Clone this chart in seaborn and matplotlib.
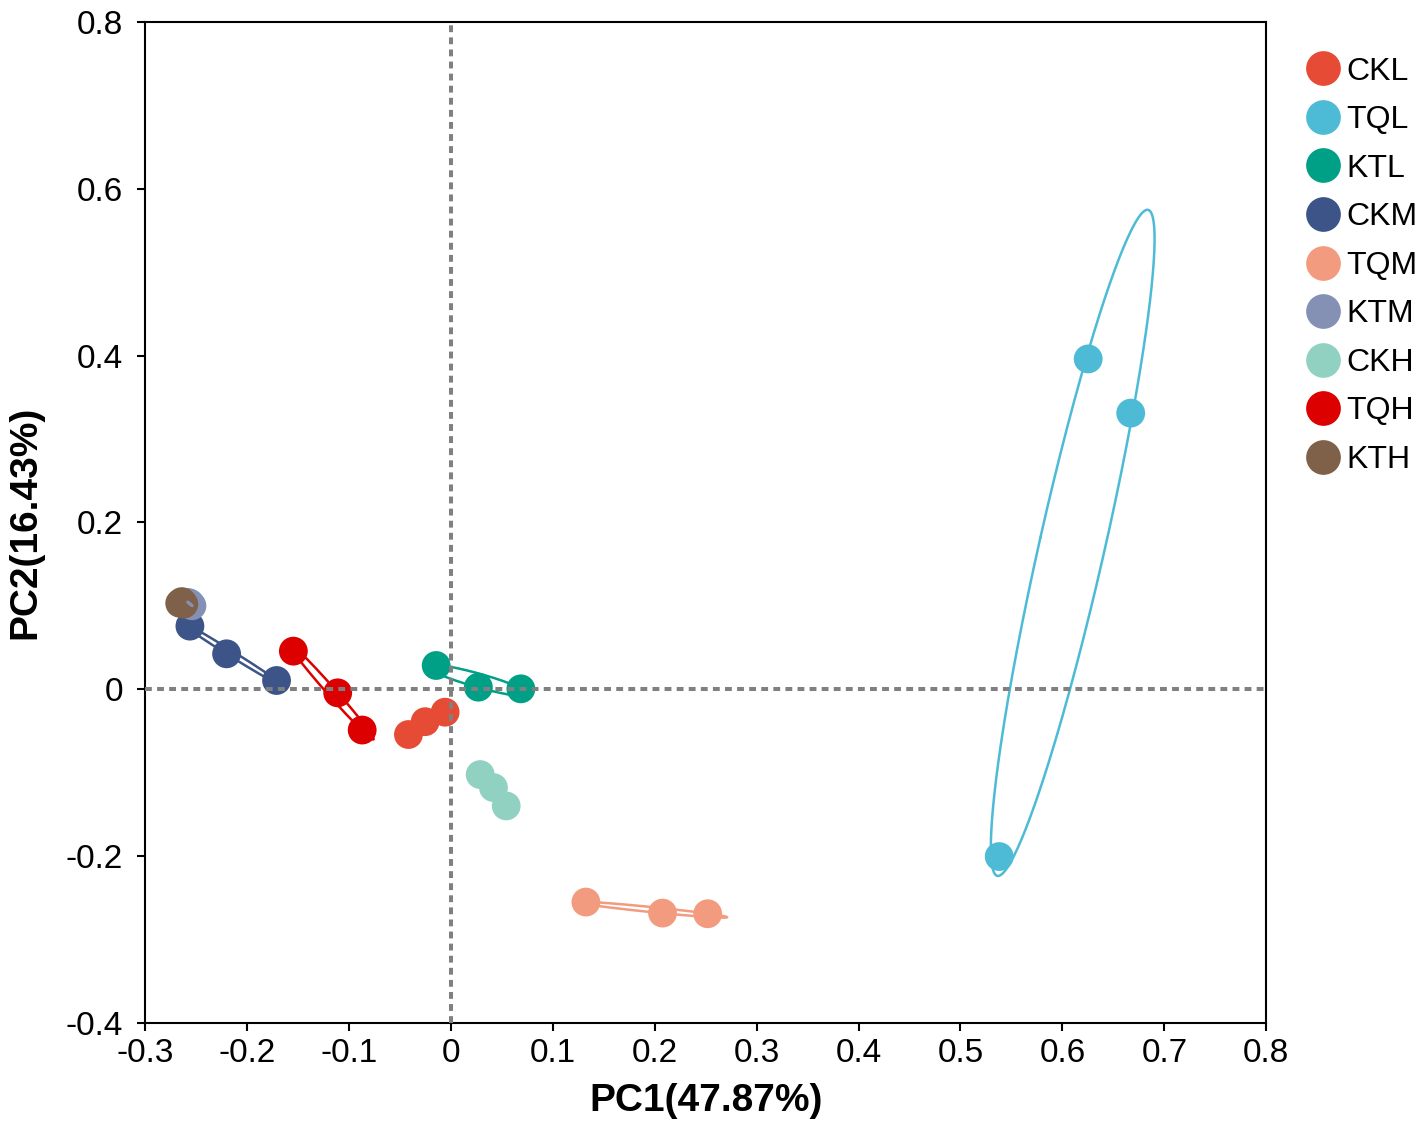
import numpy as np
import pandas as pd
import matplotlib
matplotlib.use("Agg")
import matplotlib.pyplot as plt
import seaborn as sns
from matplotlib.lines import Line2D

# ---- data ----
group_order = ["CKL", "TQL", "KTL", "CKM", "TQM", "KTM", "CKH", "TQH", "KTH"]
group_colors = ["#E64B35", "#4DBBD5", "#00A087", "#3C5488", "#F39B7F",
                "#8491B4", "#91D1C2", "#DC0000", "#7E6148"]

CKL_pc1 = [-0.0416, -0.0252, -0.0056]
CKL_pc2 = [-0.0544, -0.0390, -0.0276]
TQL_pc1 = [0.6253, 0.6670, 0.5380]
TQL_pc2 = [0.3960, 0.3310, -0.2007]
KTL_pc1 = [-0.0144, 0.0270, 0.0687]
KTL_pc2 = [0.0284, 0.0024, 0.0004]
CKM_pc1 = [-0.2560, -0.2200, -0.1710]
CKM_pc2 = [0.0756, 0.0424, 0.0104]
TQM_pc1 = [0.1325, 0.2077, 0.2520]
TQM_pc2 = [-0.2553, -0.2685, -0.2693]
KTM_pc1 = [-0.2560, -0.2540, -0.2580]
KTM_pc2 = [0.1030, 0.1000, 0.1040]
CKH_pc1 = [0.0288, 0.0418, 0.0543]
CKH_pc2 = [-0.1024, -0.1180, -0.1400]
TQH_pc1 = [-0.1545, -0.1110, -0.0870]
TQH_pc2 = [0.0456, -0.0044, -0.0490]
KTH_pc1 = [-0.2660, -0.2620, -0.2640]
KTH_pc2 = [0.1030, 0.1020, 0.1050]

x_ticks = [-0.3, -0.2, -0.1, 0, 0.1, 0.2, 0.3, 0.4, 0.5, 0.6, 0.7, 0.8]
x_ticklabels = ["-0.3", "-0.2", "-0.1", "0", "0.1", "0.2", "0.3", "0.4", "0.5", "0.6", "0.7", "0.8"]
y_ticks = [-0.4, -0.2, 0, 0.2, 0.4, 0.6, 0.8]
y_ticklabels = ["-0.4", "-0.2", "0", "0.2", "0.4", "0.6", "0.8"]
x_label = "PC1(47.87%)"
y_label = "PC2(16.43%)"

pc1_by_group = {"CKL": CKL_pc1, "TQL": TQL_pc1, "KTL": KTL_pc1, "CKM": CKM_pc1,
                "TQM": TQM_pc1, "KTM": KTM_pc1, "CKH": CKH_pc1, "TQH": TQH_pc1, "KTH": KTH_pc1}
pc2_by_group = {"CKL": CKL_pc2, "TQL": TQL_pc2, "KTL": KTL_pc2, "CKM": CKM_pc2,
                "TQM": TQM_pc2, "KTM": KTM_pc2, "CKH": CKH_pc2, "TQH": TQH_pc2, "KTH": KTH_pc2}

rows = []
for g in group_order:
    for a, b in zip(pc1_by_group[g], pc2_by_group[g]):
        rows.append({"group": g, "PC1": a, "PC2": b})
df = pd.DataFrame(rows)
palette = dict(zip(group_order, group_colors))

# ---- plot ----
sns.set_theme(style="white")
plt.rcParams["font.family"] = ["Liberation Sans", "DejaVu Sans"]
plt.rcParams["text.color"] = "black"
plt.rcParams["axes.labelcolor"] = "black"

fig = plt.figure(figsize=(14.18, 11.28), dpi=100)
ax = fig.add_axes([0.1023, 0.0933, 0.7907, 0.8872])

sns.scatterplot(data=df, x="PC1", y="PC2", hue="group", hue_order=group_order,
                palette=palette, s=430, linewidth=0, alpha=1, ax=ax, legend=False, zorder=3)

# confidence-style ellipses
scale = 1.22
t = np.linspace(0, 2 * np.pi, 300)
circle = np.vstack([np.cos(t), np.sin(t)])
for g in group_order:
    pts = np.vstack([pc1_by_group[g], pc2_by_group[g]])
    mu = pts.mean(axis=1, keepdims=True)
    cov = np.cov(pts)
    vals, vecs = np.linalg.eigh(cov)
    vals = np.clip(vals, 0, None)
    ell = mu + scale * vecs @ (np.sqrt(vals)[:, None] * circle)
    ax.plot(ell[0], ell[1], color=palette[g], lw=1.8, zorder=4)

ax.axhline(0, color="#808080", lw=2.9, ls=(0, (1.7, 1.3)), zorder=5)
ax.axvline(0, color="#808080", lw=2.9, ls=(0, (1.7, 1.3)), zorder=5)

ax.set_xlim(-0.3, 0.8)
ax.set_ylim(-0.4, 0.8)
ax.set_xticks(x_ticks)
ax.set_xticklabels(x_ticklabels)
ax.set_yticks(y_ticks)
ax.set_yticklabels(y_ticklabels)
ax.tick_params(axis="both", which="major", direction="out", length=6, width=1.5,
               labelsize=24, colors="black", left=True, bottom=True)
ax.tick_params(axis="y", pad=10)
ax.tick_params(axis="x", pad=5)
for sp in ax.spines.values():
    sp.set_visible(True)
    sp.set_color("black")
    sp.set_linewidth(1.5)
ax.set_xlabel(x_label, fontsize=28, fontweight="bold", labelpad=10, color="black")
ax.set_ylabel(y_label, fontsize=28, fontweight="bold", labelpad=16, color="black")
ax.grid(False)

handles = [Line2D([0], [0], marker="o", linestyle="none", markersize=25,
                  markerfacecolor=c, markeredgewidth=0) for c in group_colors]
fig.legend(handles, group_order, loc="upper left", bbox_to_anchor=(0.908, 0.964),
           bbox_transform=fig.transFigure, frameon=False, fontsize=23,
           labelspacing=0.58, handletextpad=0.15, handlelength=1.2, borderpad=0,
           labelcolor="black")

fig.savefig("out.png", dpi=100, facecolor="white")
